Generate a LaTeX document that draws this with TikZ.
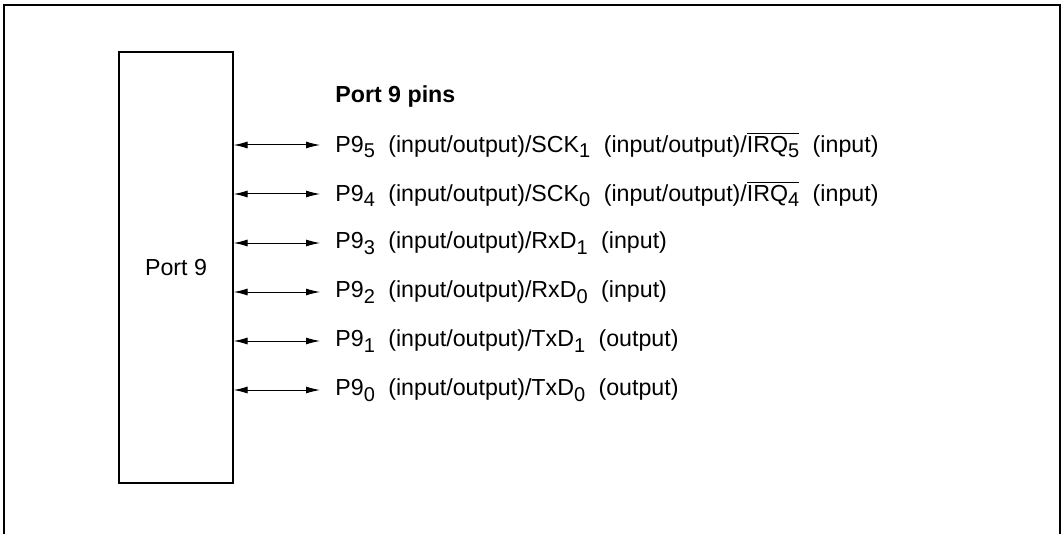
\documentclass[tikz,border=0pt]{standalone}
\usepackage{fontspec}
\setmainfont{Liberation Sans}
\usetikzlibrary{arrows.meta,positioning}

% subscript and the gap after it, as printed in the pin list
\newcommand{\pinsub}[1]{\raisebox{-0.25em}{\fontsize{10}{12}\selectfont #1}}
\newcommand{\pingap}{\hspace{3.5pt}}

\begin{document}
\begin{tikzpicture}[x=0.5pt, y=-0.5pt, >={Latex[length=7pt,width=3.5pt]},
  font=\fontsize{11.6}{14}\selectfont,
  portbox/.style={draw, line width=0.6pt, minimum width=57pt, minimum height=215.5pt, inner sep=0pt},
  pinlabel/.style={anchor=west, inner sep=0pt},
  pinline/.style={<->, line width=0.5pt}]

\useasboundingbox (0,0) rectangle (1064,534);

% ============ Frame (open at the bottom) ============
\draw[line width=0.7pt] (4,534) -- (4,5) -- (1060,5) -- (1060,534);

% ============ Port block ============
\node[portbox] (port9) at (176,267.5) {Port 9};

% Title
\node[pinlabel, font=\fontsize{11.6}{14}\selectfont\bfseries] (title) at (335,97) {Port 9 pins};

% ============ Pin labels ============
\node[pinlabel] (p95) at (335,145)
  {P9\pinsub{5}\pingap{} (input/output)/SCK\pinsub{1}\pingap{} (input/output)/$\overline{\hbox{IRQ\pinsub{5}}}$\pingap{} (input)};
\node[pinlabel] (p94) at (335,194)
  {P9\pinsub{4}\pingap{} (input/output)/SCK\pinsub{0}\pingap{} (input/output)/$\overline{\hbox{IRQ\pinsub{4}}}$\pingap{} (input)};
\node[pinlabel] (p93) at (335,243)
  {P9\pinsub{3}\pingap{} (input/output)/RxD\pinsub{1}\pingap{} (input)};
\node[pinlabel] (p92) at (335,292)
  {P9\pinsub{2}\pingap{} (input/output)/RxD\pinsub{0}\pingap{} (input)};
\node[pinlabel] (p91) at (335,341)
  {P9\pinsub{1}\pingap{} (input/output)/TxD\pinsub{1}\pingap{} (output)};
\node[pinlabel] (p90) at (335,390)
  {P9\pinsub{0}\pingap{} (input/output)/TxD\pinsub{0}\pingap{} (output)};

% ============ Bidirectional arrows ============
\draw[pinline] (port9.east |- p95.west) -- ([xshift=-7.5pt]p95.west);
\draw[pinline] (port9.east |- p94.west) -- ([xshift=-7.5pt]p94.west);
\draw[pinline] (port9.east |- p93.west) -- ([xshift=-7.5pt]p93.west);
\draw[pinline] (port9.east |- p92.west) -- ([xshift=-7.5pt]p92.west);
\draw[pinline] (port9.east |- p91.west) -- ([xshift=-7.5pt]p91.west);
\draw[pinline] (port9.east |- p90.west) -- ([xshift=-7.5pt]p90.west);

\end{tikzpicture}
\end{document}
